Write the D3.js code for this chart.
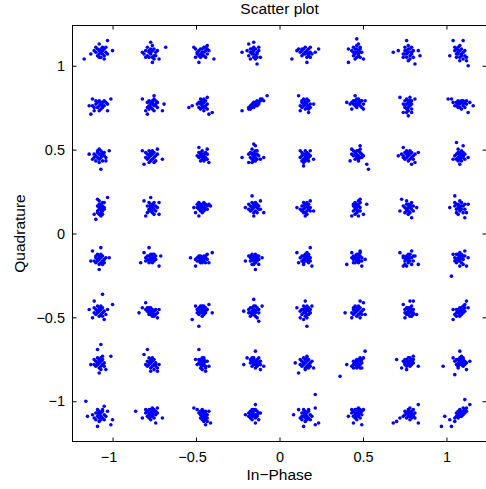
<!DOCTYPE html>
<html>
<head>
<meta charset="utf-8">
<script src="https://cdn.jsdelivr.net/npm/d3@7"></script>
<style>
  html, body { margin: 0; padding: 0; background: #fff; }
  svg text { font-family: "Liberation Sans", Arial, Helvetica, sans-serif; fill: #000; }
</style>
</head>
<body>
<svg id="chart" width="486" height="489"></svg>
<script>
// 64-QAM constellation levels (In-Phase columns, Quadrature rows from top)
const iLevels = [-1.0801, -0.7715, -0.4629, -0.1543, 0.1543, 0.4629, 0.7715, 1.0801];
const qLevels = [1.0801, 0.7715, 0.4629, 0.1543, -0.1543, -0.4629, -0.7715, -1.0801];
const xTicks = [-1, -0.5, 0, 0.5, 1];
const yTicks = [-1, -0.5, 0, 0.5, 1];

// Received-symbol deviations from each constellation point, in hundredths,
// flat pairs [dI, dQ, dI, dQ, ...], one array per constellation point (left to right).
const row0 = [
 [-9,-4,5,7,8,1,0,5,-5,-1,1,0,2,1,0,-1,3,-2,-1,2,2,3,4,0,1,-3,-2,0,3,2,0,1,-1,-2,2,-1,4,3,1,2,-3,1,3,-4,0,-3,5,-1,-2,3],
 [9,3,0,6,1,-6,5,-4,-5,0,0,-1,-1,0,1,1,2,-2,-2,-2,3,0,0,2,-3,1,1,-3,2,2,-1,-3,3,-2,0,0,-2,3,1,4,-4,-1,2,-4,4,1,-1,1,-3,-3],
 [7,-4,-2,-6,-5,3,3,4,-4,-3,-1,-1,0,0,-2,1,1,-2,2,1,-3,0,0,2,1,3,-1,-3,3,-1,-2,-2,2,3,0,-2,-4,2,1,0,3,2,-1,2,2,-3,-3,-1,4,1],
 [-3,5,2,-7,-7,0,4,-3,0,6,-1,-1,0,1,-2,0,1,-2,-1,2,2,0,0,-3,-3,-2,1,2,3,1,-2,-4,0,3,2,-1,-1,0,-4,1,1,-4,3,3,-2,2,0,-1,2,-3],
 [-8,-4,8,2,1,-6,-5,1,6,0,0,0,1,1,-1,-1,2,-2,-2,2,3,0,0,3,-3,0,1,-3,2,2,-2,-2,4,-1,-1,2,0,-1,3,3,-4,2,2,-1,1,0,-2,1,3,-3],
 [0,8,-5,-6,2,3,4,-4,-5,2,-1,-1,0,0,-1,2,1,-2,-2,0,1,1,0,-3,-2,-2,2,0,0,4,-1,-4,2,2,-3,1,1,-1,0,2,-2,3,2,-3,3,0,-1,0,1,5],
 [-9,0,-1,7,4,-7,7,-2,6,1,-6,1,-1,-1,0,0,-2,1,1,-2,0,2,-1,-3,2,0,-3,-1,1,2,0,-5,3,-3,-2,3,1,-4,-1,1,2,3,-3,-3,0,4,2,-1,-2,-1,3,1],
 [-4,7,2,7,5,-8,-6,-2,4,-3,4,-5,-1,0,0,1,-2,-1,1,-2,-1,3,0,-3,-3,1,2,0,1,2,-2,-3,-1,-1,3,1,0,4,-3,3,2,-4,1,-1,-2,2,0,-5,3,-2,-1,1]
];
const row1 = [
 [-6,-1,7,3,-5,-6,5,-4,-4,3,0,-1,1,0,-1,-2,2,1,-2,0,3,-1,0,2,-3,-2,1,-3,4,1,-1,1,2,-2,-4,-1,3,2,0,-4,5,0,-2,2,1,1,-3,-4,2,-1],
 [-5,3,-2,-6,2,5,7,-4,-3,-4,8,0,1,0,0,1,2,-1,-1,-1,1,2,3,0,0,-2,-2,1,2,3,4,-2,1,-3,-1,2,3,2,0,0,2,-4,-2,-2,4,1,1,1,-1,-3,3,-1],
 [-8,-2,-6,-1,6,-5,4,-6,3,4,0,-1,-1,0,1,1,2,-2,-1,-3,0,2,-2,1,1,-4,3,0,-1,3,2,2,0,-2,1,3,-2,-2,2,-1,0,0,-1,1,3,-3,1,-2,-3,0],
 [8,5,-7,-4,6,2,5,3,-3,-3,0,-1,1,0,-1,-2,2,1,-2,-1,3,1,0,0,1,-1,-1,0,2,2,-2,-3,4,2,0,-2,3,0,1,1,-3,-2,2,-1,-1,-1,4,3,0,1],
 [-4,5,5,0,-3,-4,2,-5,0,0,1,1,-1,-1,2,-1,-2,1,0,2,1,-2,-1,3,3,0,-3,-1,2,2,0,-3,-2,-2,1,3,3,-2,-1,0,0,1,2,-3,-2,2,1,-1],
 [-1,5,-6,1,5,2,4,-3,-3,-3,0,1,1,0,-1,2,2,1,-2,0,0,-1,3,2,-3,1,1,3,2,-1,-1,-1,4,0,0,3,-2,2,3,-2,1,1,-4,0,2,2,0,-2,-1,0],
 [0,-7,-5,4,4,3,2,-5,-3,-5,-1,0,0,1,-2,-1,0,-2,1,2,-1,3,1,-1,-2,2,0,-4,2,0,-1,-3,1,4,-3,0,0,2,2,-3,-2,-2,1,1,-1,-5,0,0,2,2],
 [8,-1,5,-5,-7,3,-5,3,6,1,0,0,1,1,-1,0,2,-1,-2,1,3,1,0,-2,-3,-1,1,2,4,0,-1,-2,2,2,-4,1,3,-2,0,1,1,-3,-2,-1,4,2,-1,2,2,0]
];
const row2 = [
 [1,-8,-6,1,6,3,-4,-2,4,-3,0,1,2,2,-2,0,1,-1,-1,3,3,0,0,-2,-3,1,2,-3,1,3,-1,-1,3,2,-2,-3,0,4,2,0,-3,-1,1,1,4,-1,-1,2,0,-4],
 [-4,-5,7,-2,-5,3,4,4,0,0,1,1,-1,-1,2,-1,-2,1,0,2,1,-2,-1,3,3,0,-3,-1,2,2,0,-3,-2,-2,3,-3,1,3,-1,0,2,-4,-3,2,4,1,0,1,-1,-4],
 [4,-4,-3,0,-2,5,3,4,0,0,1,1,-1,0,0,-2,2,-1,-1,2,1,-3,0,3,-2,-1,2,2,1,0,-1,-3,3,1,0,1,-2,2,2,-2,1,-1,-1,1,0,-1,3,-2],
 [-7,-1,6,-1,1,6,-3,-4,0,7,0,0,-1,1,1,-1,0,2,2,1,-2,-1,1,3,-1,-2,3,0,0,-3,-3,1,2,-2,1,1,-1,4,0,-1,4,-2,-2,2,2,3,-1,-4,1,-3],
 [-1,-6,5,-2,-3,3,3,3,0,-1,1,0,-1,-2,0,1,2,-1,-2,0,1,2,-1,-4,2,1,0,-3,-2,2,1,-2,3,0,-1,1,0,3,2,-3,-3,-1,1,-1,0,0,-2,-3],
 [7,-8,6,-5,2,6,-4,-3,-3,4,0,1,1,0,-1,2,2,2,-2,0,0,-1,3,1,1,3,-1,-2,2,-1,-3,1,0,3,1,-2,3,-1,-2,3,4,0,0,0,-1,1,2,4,1,-3],
 [-3,5,6,2,-6,0,4,-4,2,-5,-1,1,0,0,-2,2,1,1,-3,0,0,2,2,-1,-1,-1,1,3,3,0,-2,-2,0,-3,2,2,-4,1,1,-2,3,-2,-1,3,0,1,4,1,-3,-1],
 [-2,8,2,6,0,-5,-4,-2,5,-1,0,0,1,1,-1,-1,0,2,2,-1,-2,1,1,3,-1,-3,3,1,0,-2,-3,0,2,2,1,-1,-1,4,0,1,3,-2,-2,-2,2,0,-1,2,1,-3]
];
const row3 = [
 [-2,-7,5,6,-3,-4,-1,5,3,3,1,-1,0,0,2,1,1,-3,0,2,2,-2,1,1,-1,-2,3,0,0,-4,2,3,1,-5,-1,1,3,-1,0,4,2,-4,1,2,-1,-3,2,0,0,-1],
 [-4,4,5,-4,-3,-5,5,3,0,6,1,0,0,1,2,-1,-1,-1,1,2,0,-2,2,1,-2,1,3,-2,1,-3,-1,3,0,0,2,3,3,1,-1,-2,1,-1,-2,-3,2,-4,0,2,4,0],
 [-5,0,-2,-5,4,2,-4,-3,5,1,0,1,-1,2,1,0,-2,1,2,2,0,-1,-3,0,1,3,3,1,-1,-2,2,-1,-2,3,0,2,1,-2,-3,2,3,-1,-1,0,2,1,0,-3,-2,-1],
 [-1,7,6,-3,-5,0,0,-5,4,4,0,0,1,1,-1,-1,2,0,-2,1,0,2,1,-2,-1,3,3,-1,-3,-1,2,2,0,-3,-2,-2,1,3,3,1,-1,0,2,-3,-3,2,0,1,4,-1],
 [-5,0,5,-2,0,-5,3,4,0,0,1,1,-1,-1,0,2,2,-1,-2,1,1,-2,-1,3,3,0,0,-3,-3,-1,2,2,-1,1,1,-4,-2,-2,3,-2,0,1,2,0,-1,-3,1,3],
 [6,2,2,5,-3,-5,4,-4,0,0,1,1,-1,-1,0,2,1,-2,-1,3,0,-3,2,0,-2,1,1,4,-1,-4,2,-2,0,1,-2,-2,1,2,0,-1,2,3,-1,0,1,-5,-2,2],
 [2,-6,-4,5,5,0,-5,-2,0,0,1,1,-1,-1,0,2,2,-1,-2,0,1,-3,-1,2,3,1,0,-2,-2,-3,2,3,1,0,-1,4,3,-2,-3,1,0,-4,2,1,-1,-2,1,2],
 [-3,7,3,-6,-6,0,5,2,4,-3,-1,0,0,1,-2,-1,1,-1,-1,2,0,-2,2,1,-3,1,1,3,-2,-3,3,-1,0,0,-1,-4,2,-3,-3,3,1,1,0,4,-2,2,3,2,0,-1]
];
const row4 = [
 [1,7,-4,5,6,1,0,-6,-5,-1,0,0,1,1,-1,-1,2,-1,-2,1,0,2,1,-2,-1,3,3,0,-3,-1,2,2,0,-3,-2,-2,1,3,3,-2,-1,0,4,1,0,1,2,-3,-2,2],
 [-1,7,6,2,-6,-2,5,-4,-4,4,0,1,1,0,-1,2,2,1,-2,0,0,-1,3,2,1,3,-1,-2,2,-1,-3,1,0,3,1,-2,-2,2,3,0,0,0,-1,-1,2,3,1,1,-3,-1],
 [6,4,-7,1,-4,-4,3,3,4,-2,-1,0,0,1,-2,-1,1,0,-3,1,0,-2,2,1,-1,2,1,-1,-2,2,3,0,-4,0,0,0,2,-2,-1,-2,1,2,-3,-1,2,2,0,-1,-2,1],
 [1,-6,-5,-1,5,1,3,-3,0,1,1,2,-1,2,2,1,-2,1,0,2,1,0,-1,0,3,2,-3,2,2,-1,-2,-1,0,-1,1,3,-1,3,3,0,0,-3,2,2,-2,2,1,-2,-1,-3,0,0],
 [3,7,-5,4,-4,-2,4,-4,0,1,1,2,-1,0,2,0,-2,2,0,3,1,-1,-1,-2,2,2,3,1,-2,-1,0,-1,1,4,-1,2,2,-2,-3,1,0,0,1,1,3,-1,-1,-3,2,3],
 [-6,-3,5,0,2,5,-3,4,3,-4,0,1,1,0,-1,2,2,2,-2,0,0,-1,3,1,1,3,-1,-2,2,-1,-3,1,0,3,1,-2,-2,2,3,-1,0,0,-1,1,2,4,1,1,-2,-2],
 [-5,4,2,5,6,-3,-3,-4,4,2,-1,0,0,1,-2,-1,1,-1,-1,2,0,-2,2,1,-3,1,1,3,-2,-3,3,-1,0,0,-1,-4,2,-3,-3,2,1,1,0,3,-2,1,3,2,0,-1],
 [-5,-10,4,-4,-4,3,3,5,5,1,-1,1,0,2,-2,0,1,1,0,-1,-1,3,2,0,-3,1,1,-2,0,4,-2,-2,2,2,-1,-1,3,2,0,0,-3,-1,1,3,2,-3,-2,3,0,-4]
];
const row5 = [
 [2,10,-3,6,8,4,-6,1,-4,-4,3,-5,0,0,1,1,-1,-1,2,-1,-2,1,0,2,1,-2,-1,3,3,0,-3,-1,2,2,0,-3,-2,-2,1,3,4,-2,-1,0,0,1,2,-3,-3,2,5,1],
 [-7,-1,-3,5,4,-4,5,1,-5,2,0,0,1,-1,-1,1,2,-2,-2,2,1,1,-1,-1,3,-2,0,2,2,0,-3,1,0,-2,3,1,1,-3,-2,0,4,-1,-1,2,2,-3,0,1,-1,-2],
 [-2,-9,-6,-5,6,-1,4,4,-4,3,-1,1,0,2,-2,0,1,1,0,-1,-1,3,2,0,-3,1,1,-2,0,3,-2,-2,2,2,-1,-1,3,1,0,0,-3,-1,1,3,2,-1,-2,2,0,-3],
 [0,7,3,-6,-6,0,5,3,2,-4,-1,0,0,1,-2,-1,1,-1,-1,2,0,-2,2,1,-3,1,1,3,-2,-3,3,-1,0,0,-1,-2,2,2,-3,-1,1,0,0,3,-2,2,3,1,1,-3],
 [1,-9,-5,2,0,6,4,3,-3,-4,0,0,1,1,-1,-1,0,2,1,-2,-2,1,2,0,-1,3,0,-3,2,2,-2,-2,1,-4,3,1,-1,1,0,-1,2,-2,-3,0,1,3,-1,-5,3,-1],
 [-7,-1,2,6,4,5,5,-2,-3,-4,0,0,1,1,-1,-1,2,-1,-2,1,0,2,1,-2,-1,3,3,0,-3,-1,2,2,0,-3,-2,-2,1,3,3,-2,-1,0,0,1,2,-4,-2,2,4,1],
 [1,6,3,6,-3,4,5,-2,-2,-4,1,0,0,1,2,-1,-1,-1,1,2,0,-2,2,1,-2,1,3,-2,1,-3,-1,2,0,0,2,3,3,1,-1,-2,1,-1,-2,-1,2,-3,0,2,3,-1],
 [4,6,-4,-5,-4,1,5,2,3,4,0,0,1,1,-1,-1,2,1,-2,-1,1,2,-1,0,2,-1,0,-2,3,2,-2,-3,0,2,1,-1,-1,1,2,3,-3,-2,3,0,0,-3,1,-2,-2,1]
];
const row6 = [
 [1,11,-1,8,7,4,0,-6,-5,-1,4,-4,0,0,1,1,-1,-1,2,-1,-2,1,0,2,1,-2,-1,3,3,0,-3,-1,2,2,0,-3,-2,-2,1,3,3,-2,-1,0,2,4,0,1,-3,2,1,-4],
 [-2,8,4,-5,-4,5,0,-5,5,-1,0,0,1,1,-1,-1,2,-1,-2,1,0,2,1,-2,-1,3,3,0,-3,-1,2,2,0,-3,-2,-2,1,3,3,-2,4,-3,0,1,2,-4,-1,0,3,-1],
 [-2,8,2,-5,-4,2,4,-2,0,0,-1,1,1,-1,0,-2,1,2,-2,0,2,1,-1,-3,0,3,2,-2,-2,2,1,0,-1,-1,3,1,0,-4,-3,-1,1,3,2,-3,-1,2,0,1],
 [-6,-1,6,-2,1,7,-4,3,4,-4,1,1,0,0,2,2,-1,1,3,0,0,2,1,-1,2,-2,-2,0,3,3,-1,-2,4,1,0,3,2,0,-2,2,1,-3,3,-1,0,-1,-1,3,2,1,4,-1],
 [-4,-6,5,-3,-6,0,1,4,0,-4,0,0,1,1,-1,-1,2,-1,-2,1,0,2,1,-2,-1,3,3,0,-3,-1,2,2,0,-3,-2,-2,1,3,3,-2,-1,0,4,1,0,1,2,-3,-3,2],
 [-10,-8,5,7,-6,-1,4,3,3,-3,0,0,1,1,-1,-1,2,1,-2,-1,1,2,-1,0,2,-1,0,-2,3,2,-2,-3,0,2,1,-1,-1,1,2,3,-3,-2,3,0,0,-3,1,-2,-2,1,2,-3],
 [-7,2,6,-2,-1,-4,3,4,-4,-3,0,1,1,0,-1,2,2,1,-2,0,0,-1,3,2,1,3,-1,-2,2,-1,-3,1,0,3,1,-2,-2,2,3,0,0,0,-1,1,2,2,1,1,-2,-1],
 [-10,-2,0,7,-3,-7,6,1,4,-4,-4,3,0,1,1,2,-1,0,2,0,-2,2,0,3,1,-1,-1,-2,2,2,3,1,-2,-1,0,-1,1,4,-1,2,2,-2,-3,1,0,0,1,1,3,-1,-1,-3,2,3,4,0]
];
const row7 = [
 [-8,8,-7,-1,8,-3,-1,-7,3,5,7,-6,5,2,0,0,1,1,-1,-1,2,-2,-2,1,0,2,1,-3,-1,3,3,0,-3,-2,2,2,0,-4,-2,-3,4,-1,-1,1,3,-3,-4,0,1,-1,2,3,0,-2],
 [-9,2,7,-2,3,-5,-5,-2,4,4,0,1,1,2,-1,0,2,1,-2,2,0,3,1,-1,-1,3,3,0,-3,1,2,3,0,-1,-2,-1,1,0,3,2,-1,1,2,-2,0,-3,-3,3,4,1,1,4,-1,-2],
 [-5,4,5,-5,2,-6,-3,3,4,2,1,0,0,1,2,-1,1,-2,0,-1,2,1,-1,0,1,2,3,-2,0,-3,2,-3,-1,2,1,-4,3,0,0,3,2,2,-2,1,1,1,3,-4,-1,-2],
 [1,6,1,-5,-5,0,4,1,3,-3,-1,1,0,2,-2,0,1,0,-1,-1,0,3,-3,1,2,2,-1,3,1,-2,-2,-2,2,0,0,0,-3,-1,1,3,-1,-3,2,-1,-2,2,3,1,0,-1],
 [6,12,-7,0,8,-5,6,-6,-1,-7,6,4,-4,3,0,0,1,1,-1,-1,2,-2,-2,1,0,2,1,-3,-1,3,3,0,-3,-2,2,2,0,-4,-2,-3,4,-1,-1,1,3,-3,1,-1,2,3,0,-2,-2,-1],
 [-2,-5,3,-6,-5,-1,4,3,-3,3,0,1,1,2,-1,0,2,1,-2,2,0,3,1,-1,-1,3,3,0,-3,1,2,3,0,-1,-2,-1,1,0,3,2,-1,1,2,-2,0,-3,1,4,-1,-2],
 [-9,-5,-7,-4,-5,-2,6,6,6,-5,-3,-1,1,1,0,0,2,2,-1,1,3,0,0,2,1,-1,2,-2,-2,0,3,3,-1,-2,4,1,0,3,2,0,-2,2,1,-3,3,-1,0,-1,1,4,2,1,4,-2],
 [-11,-7,-9,-1,-5,-7,3,9,6,6,-6,-3,-3,-4,0,1,1,2,-1,0,2,2,-2,-1,1,1,0,-1,3,3,2,0,-1,2,1,-1,4,2,-2,1,0,3,3,1,-3,-2,2,4,1,0,-1,-2,4,4]
];
const rows = [row0, row1, row2, row3, row4, row5, row6, row7];

// Build symbol list
const symbols = [];
rows.forEach((row, r) => {
  row.forEach((dev, c) => {
    for (let k = 0; k + 1 < dev.length; k += 2) {
      symbols.push({ I: iLevels[c] + dev[k] / 100, Q: qLevels[r] + dev[k + 1] / 100 });
    }
  });
});

const svg = d3.select("#chart");
const mL = 72.5, mR = 486.5, mT = 25.5, mB = 441.5;
const x = d3.scaleLinear().domain([-1.24, 1.24]).range([mL, mR]);
const y = d3.scaleLinear().domain([-1.24, 1.24]).range([mB, mT]);

// Points
svg.append("g")
  .selectAll("circle")
  .data(symbols)
  .join("circle")
  .attr("cx", d => x(d.I))
  .attr("cy", d => y(d.Q))
  .attr("r", 1.8)
  .attr("fill", "#0000ff");

const tickFont = "14.5px";
const tickFmt = d => d3.format("")(d).replace("-", "\u2212");

// Bottom axis
const gx = svg.append("g")
  .attr("transform", `translate(0,${mB})`)
  .call(d3.axisBottom(x).tickValues(xTicks).tickSizeInner(-4).tickSizeOuter(0).tickPadding(10).tickFormat(tickFmt));
gx.select(".domain").remove();
gx.selectAll("text").style("font-size", tickFont)
  .attr("dx", d => d < 0 ? -4 : 0);

// Top axis (ticks only)
const gxt = svg.append("g")
  .attr("transform", `translate(0,${mT})`)
  .call(d3.axisTop(x).tickValues(xTicks).tickSizeInner(-4).tickSizeOuter(0).tickFormat(""));
gxt.select(".domain").remove();

// Left axis
const gy = svg.append("g")
  .attr("transform", `translate(${mL},0)`)
  .call(d3.axisLeft(y).tickValues(yTicks).tickSizeInner(-4).tickSizeOuter(0).tickPadding(7.5).tickFormat(tickFmt));
gy.select(".domain").remove();
gy.selectAll("text").style("font-size", tickFont);

// Right axis (ticks only)
const gyr = svg.append("g")
  .attr("transform", `translate(${mR},0)`)
  .call(d3.axisRight(y).tickValues(yTicks).tickSizeInner(-4).tickSizeOuter(0).tickFormat(""));
gyr.select(".domain").remove();

svg.selectAll(".tick line").attr("stroke", "#000");

// Box
svg.append("rect")
  .attr("x", mL).attr("y", mT)
  .attr("width", mR - mL).attr("height", mB - mT)
  .attr("fill", "none").attr("stroke", "#000").attr("stroke-width", 1);

// Title and labels
svg.append("text")
  .attr("x", (mL + mR) / 2).attr("y", 14)
  .attr("text-anchor", "middle").style("font-size", "15.5px")
  .text("Scatter plot");

svg.append("text")
  .attr("x", (mL + mR) / 2).attr("y", 480)
  .attr("text-anchor", "middle").style("font-size", "15.5px")
  .text("In\u2212Phase");

svg.append("text")
  .attr("transform", `translate(25,${(mT + mB) / 2}) rotate(-90)`)
  .attr("text-anchor", "middle").style("font-size", "15.5px")
  .text("Quadrature");
</script>
</body>
</html>
